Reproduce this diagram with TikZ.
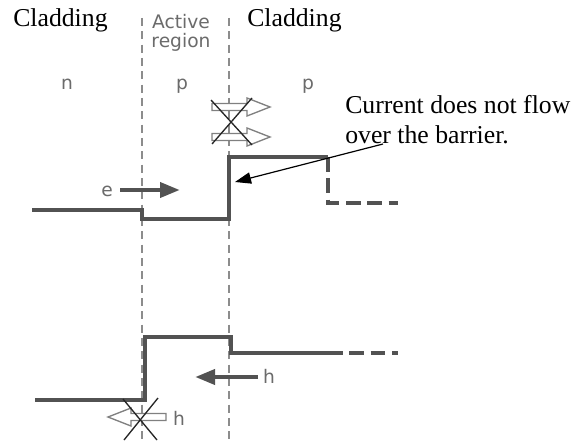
\documentclass[tikz,border=0pt]{standalone}
\usepackage{fontspec}
\setmainfont{Liberation Serif}
\newfontfamily\labelfont{DejaVu Sans}
\usepackage{tikz}
\usetikzlibrary{arrows.meta, calc}
\tikzset{
  bandline/.style={line width=2.6pt, draw=black!68, line join=miter},
  bandcont/.style={line width=2.6pt, draw=black!68, dash pattern=on 11pt off 5pt},
  divider/.style={draw=black!45, line width=0.9pt, dash pattern=on 6pt off 4pt},
  carrier/.style={line width=3.4pt, draw=black!68, -{Triangle[length=15pt,width=11pt]}},
  sidelabel/.style={font=\labelfont\fontsize{14}{14.25}\selectfont, text=black!58, inner sep=0pt},
  caption/.style={font=\fontsize{19.3}{22.5}\selectfont, inner sep=0pt},
  pointer/.style={line width=0.9pt, -{Triangle[length=12pt,width=8.5pt]}},
  crossline/.style={line width=1pt, draw=black!85},
  hollowarrow/.pic={
    \draw[line width=1pt, draw=black!50, fill=white]
      (0,0) -- (-23,-9) -- (-23,-3.5) -- (-58,-3.5) -- (-58,3.5)
      -- (-23,3.5) -- (-23,9) -- cycle;
  },
}
\begin{document}
\begin{tikzpicture}[x=0.75pt, y=-0.75pt]
  \useasboundingbox[fill=white] (0,0) rectangle (574,442);

  % layer boundaries
  \draw[divider] (142,18) -- (142,442);
  \draw[divider] (229,18) -- (229,442);

  % headings
  \node[caption, anchor=base west] (cladleft)  at (13,27)  {Cladding};
  \node[caption, anchor=base west] (cladright) at (247,27) {Cladding};
  \node[sidelabel, anchor=north, align=center] (active) at (181,14) {Active\\region};
  \node[sidelabel, anchor=base] (nside)  at (67,90)  {n};
  \node[sidelabel, anchor=base] (pact)   at (182,90) {p};
  \node[sidelabel, anchor=base] (pside)  at (308,90) {p};

  % conduction band
  \draw[bandline] (32,210) -- (142,210) -- (142,219) -- (229,219)
    -- (229,157) -- (328,157);
  \draw[bandcont] (328,157) -- (328,203) -- (398,203);

  % valence band
  \draw[bandline] (35,400) -- (145,400) -- (145,337) -- (231,337)
    -- (231,353) -- (328,353);
  \draw[bandcont] (328,353) -- (398,353);

  % electrons
  \node[sidelabel, anchor=base] (elabel) at (107,196) {e};
  \coordinate (etail) at (120,190);
  \coordinate (etip)  at (180,190);
  \draw[carrier] (etail) -- (etip);
  \pic at (270,107) {hollowarrow};
  \pic at (270,137) {hollowarrow};
  \draw[crossline] (211,100) -- (252,145);
  \draw[crossline] (252,98) -- (212,144);

  % holes
  \node[sidelabel, anchor=base] (hlabel) at (269,383) {h};
  \coordinate (htail) at (258,377);
  \coordinate (htip)  at (195,377);
  \draw[carrier] (htail) -- (htip);
  \pic[rotate=180] at (108,417) {hollowarrow};
  \node[sidelabel, anchor=base] (hblocked) at (179,425) {h};
  \draw[crossline] (123,399) -- (157,440);
  \draw[crossline] (158,398) -- (124,440);

  % annotation
  \node[caption, anchor=north west, align=left] (note) at (345,95)
    {Current does not flow\\over the barrier.};
  \coordinate (notetail) at (383,144);
  \coordinate (barrier)  at (235,182);
  \draw[pointer] (notetail) -- (barrier);
\end{tikzpicture}
\end{document}
